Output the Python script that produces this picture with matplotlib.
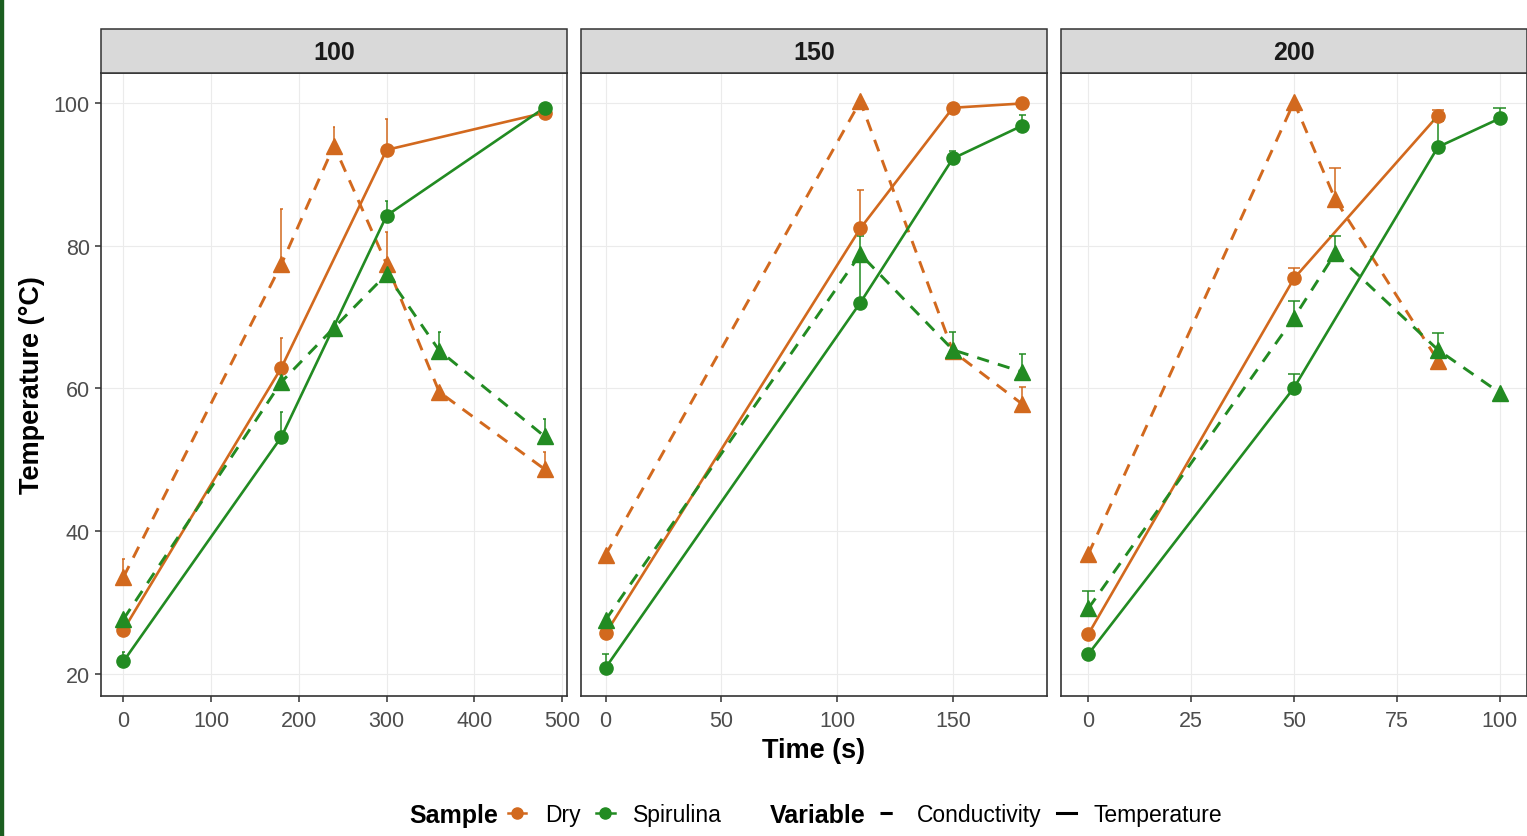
import numpy as np
import matplotlib
matplotlib.use("Agg")
import matplotlib.pyplot as plt
from matplotlib.lines import Line2D
from matplotlib.patches import Rectangle

plt.rcParams['font.family'] = ['Liberation Sans', 'DejaVu Sans']

DRY = "#D2691E"   # chocolate
SPI = "#228B22"   # forestgreen

facets = ["100", "150", "200"]

# ---- facet 100 ----
t_temp_100 = [0, 180, 300, 480]
dry_temp_100 = [26.2, 62.9, 93.4, 98.6]
dry_temp_err_100 = [0, 4.2, 4.3, 0]
spi_temp_100 = [21.8, 53.2, 84.2, 99.3]
spi_temp_err_100 = [1.3, 3.5, 2.1, 0]
t_cond_100 = [0, 180, 240, 300, 360, 480]
dry_cond_100 = [33.6, 77.4, 94.0, 77.4, 59.5, 48.7]
dry_cond_err_100 = [2.5, 7.7, 2.6, 4.5, 0, 2.4]
spi_cond_100 = [27.7, 60.9, 68.5, 76.0, 65.3, 53.3]
spi_cond_err_100 = [0, 2.3, 0, 0, 2.6, 2.4]

# ---- facet 150 ----
t_temp_150 = [0, 110, 150, 180]
dry_temp_150 = [25.7, 82.4, 99.3, 99.9]
dry_temp_err_150 = [0, 5.4, 0, 0]
spi_temp_150 = [20.9, 72.0, 92.2, 96.8]
spi_temp_err_150 = [1.9, 5.7, 1.1, 1.5]
t_cond_150 = [0, 110, 150, 180]
dry_cond_150 = [36.7, 100.2, 65.2, 57.8]
dry_cond_err_150 = [0, 0, 0, 2.4]
spi_cond_150 = [27.6, 78.8, 65.4, 62.3]
spi_cond_err_150 = [0, 2.5, 2.5, 2.5]

# ---- facet 200 ----
t_dry_temp_200 = [0, 50, 85]
dry_temp_200 = [25.6, 75.4, 98.2]
dry_temp_err_200 = [0, 1.5, 0.8]
t_spi_temp_200 = [0, 50, 85, 100]
spi_temp_200 = [22.8, 60.1, 93.8, 97.8]
spi_temp_err_200 = [0, 1.9, 3.7, 1.4]
t_dry_cond_200 = [0, 50, 60, 85]
dry_cond_200 = [36.8, 100.1, 86.5, 63.9]
dry_cond_err_200 = [0, 0, 4.4, 0]
t_spi_cond_200 = [0, 50, 60, 85, 100]
spi_cond_200 = [29.2, 69.9, 78.9, 65.4, 59.4]
spi_cond_err_200 = [2.4, 2.3, 2.4, 2.4, 0]

xticks_100 = [0, 100, 200, 300, 400, 500]
xticks_150 = [0, 50, 100, 150]
xticks_200 = [0, 25, 50, 75, 100]
yticks = [20, 40, 60, 80, 100]

# series per panel: (time, values, errors, colour, variable)
panels = [
    [(t_temp_100, dry_temp_100, dry_temp_err_100, DRY, "Temperature"),
     (t_cond_100, dry_cond_100, dry_cond_err_100, DRY, "Conductivity"),
     (t_temp_100, spi_temp_100, spi_temp_err_100, SPI, "Temperature"),
     (t_cond_100, spi_cond_100, spi_cond_err_100, SPI, "Conductivity")],
    [(t_temp_150, dry_temp_150, dry_temp_err_150, DRY, "Temperature"),
     (t_cond_150, dry_cond_150, dry_cond_err_150, DRY, "Conductivity"),
     (t_temp_150, spi_temp_150, spi_temp_err_150, SPI, "Temperature"),
     (t_cond_150, spi_cond_150, spi_cond_err_150, SPI, "Conductivity")],
    [(t_dry_temp_200, dry_temp_200, dry_temp_err_200, DRY, "Temperature"),
     (t_dry_cond_200, dry_cond_200, dry_cond_err_200, DRY, "Conductivity"),
     (t_spi_temp_200, spi_temp_200, spi_temp_err_200, SPI, "Temperature"),
     (t_spi_cond_200, spi_cond_200, spi_cond_err_200, SPI, "Conductivity")],
]
panel_xticks = [xticks_100, xticks_150, xticks_200]

W, H = 1527, 837
fig = plt.figure(figsize=(W / 100, H / 100), dpi=100)

cap_w = 3.0
top_px, bot_px, panel_w = 74, 697, 466
lefts = [101, 581, 1061]

# shared y range (ggplot style 5% expansion)
all_lo = min(min(s[1]) for p in panels for s in p)
all_hi = max(max(np.add(s[1], s[2])) for p in panels for s in p)
ypad = 0.05 * (all_hi - all_lo)

for i, (facet, series) in enumerate(zip(facets, panels)):
    ax = fig.add_axes([lefts[i] / W, 1 - bot_px / H, panel_w / W, (bot_px - top_px) / H])

    tmin = min(min(s[0]) for s in series) - cap_w / 2
    tmax = max(max(s[0]) for s in series) + cap_w / 2
    xpad = 0.05 * (tmax - tmin)
    ax.set_xlim(tmin - xpad, tmax + xpad)
    ax.set_ylim(all_lo - ypad, all_hi + ypad)

    for t, y, err, col, var in series:
        if var == "Conductivity":
            ax.plot(t, y, color=col, lw=2.1, dashes=(4.2, 3.2), zorder=2)
        else:
            ax.plot(t, y, color=col, lw=1.9, zorder=2)
        te = [a for a, e in zip(t, err) if e > 0]
        ye = [b for b, e in zip(y, err) if e > 0]
        ee = [e for e in err if e > 0]
        if te:
            tops = np.add(ye, ee)
            ax.vlines(te, ye, tops, color=col, lw=1.1, zorder=3)
            ax.hlines(tops, np.subtract(te, cap_w / 2), np.add(te, cap_w / 2),
                      color=col, lw=1.1, zorder=3)

    for t, y, err, col, var in series:
        if var == "Conductivity":
            ax.plot(t, y, ls="none", marker="^", ms=11.5, color=col, zorder=4)
        else:
            ax.plot(t, y, ls="none", marker="o", ms=9.5, color=col, zorder=4)

    ax.set_xticks(panel_xticks[i])
    ax.set_yticks(yticks)
    ax.grid(True, color="#EBEBEB", lw=0.8)
    ax.set_axisbelow(True)
    for sp in ax.spines.values():
        sp.set_color("#333333")
        sp.set_linewidth(1.2)
    ax.tick_params(direction="out", length=4, width=1.1, color="#333333",
                   labelsize=15.5, labelcolor="#4D4D4D", pad=4)
    ax.tick_params(axis="x", pad=6)
    if i > 0:
        ax.tick_params(axis="y", left=False, labelleft=False)

    # facet strip
    strip_h = 44 / (bot_px - top_px)
    ax.add_patch(Rectangle((0, 1), 1, strip_h, transform=ax.transAxes, clip_on=False,
                           facecolor="#D9D9D9", edgecolor="#333333", lw=1.1, zorder=5))
    ax.text(0.5, 1 + 21 / (bot_px - top_px), facet, transform=ax.transAxes, ha="center",
            va="center", fontsize=18, fontweight="bold", color="#1A1A1A", zorder=6)

fig.text(32 / W, 1 - 385 / H, "Temperature (°C)", rotation=90, ha="center", va="center",
         fontsize=19.5, fontweight="bold")
fig.text(814 / W, 1 - 751 / H, "Time (s)", ha="center", va="center",
         fontsize=19.5, fontweight="bold")

# legends
ly = 1 - 816 / H
fig.text(409 / W, ly, "Sample", ha="left", va="center", fontsize=18, fontweight="bold")
h_sample = [Line2D([0], [0], color=DRY, marker="o", ms=8, lw=1.8),
            Line2D([0], [0], color=SPI, marker="o", ms=8, lw=1.8)]
fig.legend(h_sample, ["Dry", "Spirulina"], loc="center left", bbox_to_anchor=(508 / W, ly),
           ncol=2, frameon=False, fontsize=16.5, handlelength=0.8, handletextpad=0.8,
           columnspacing=0.7, borderpad=0, borderaxespad=0)

fig.text(770 / W, ly, "Variable", ha="left", va="center", fontsize=18, fontweight="bold")
h_var = [Line2D([0], [0], color="black", lw=2.2, dashes=(4, 3.5)),
         Line2D([0], [0], color="black", lw=2.2)]
fig.legend(h_var, ["Conductivity", "Temperature"], loc="center left",
           bbox_to_anchor=(880 / W, ly), ncol=2, frameon=False, fontsize=16.5,
           handlelength=0.8, handletextpad=0.8, columnspacing=0.7,
           borderpad=0, borderaxespad=0)

# dark strip on the left edge of the screenshot
fig.add_artist(Rectangle((0, 0), 3 / W, 1, transform=fig.transFigure, color="#1B5E20"))

fig.savefig("out.png", dpi=100)
